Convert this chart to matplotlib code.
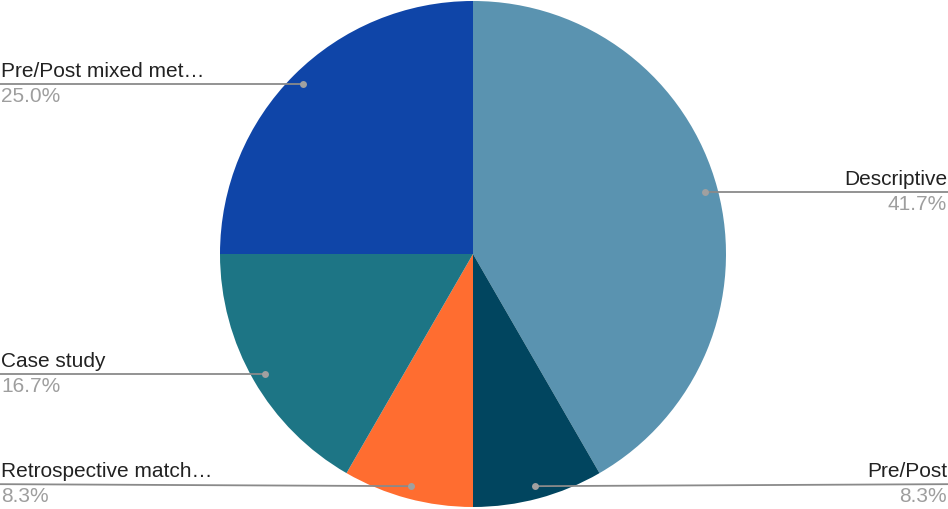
import numpy as np
import matplotlib
matplotlib.use("Agg")
import matplotlib.pyplot as plt

plt.rcParams["font.family"] = ["Liberation Sans", "DejaVu Sans"]

labels = ["Descriptive", "Pre/Post", "Retrospective match\u2026", "Case study", "Pre/Post mixed met\u2026"]
counts = [5, 1, 1, 2, 3]
colors = ["#5a93b0", "#01455f", "#ff6d30", "#1d7585", "#0f45a8"]

W, H = 948, 509
fig = plt.figure(figsize=(W / 100, H / 100), dpi=100)
ax = fig.add_axes([0, 0, 1, 1])

cx, cy, r = 473, 255, 253
wedges, _ = ax.pie(counts, colors=colors, startangle=90, counterclock=False,
                   center=(cx, cy), radius=r, frame=True,
                   wedgeprops=dict(linewidth=0))

total = sum(counts)
for w, lab, c in zip(wedges, labels, counts):
    mid = np.deg2rad((w.theta1 + w.theta2) / 2)
    px = cx + 0.95 * r * np.cos(mid)
    py = cy + 0.95 * r * np.sin(mid)
    right = np.cos(mid) > 0
    xe = W if right else 0
    ye = py + 2 if py < 60 else py
    ax.plot([px, xe], [py, ye], color="#8a8a8a", lw=1.3, solid_capstyle="butt")
    ax.plot(px, py, "o", color="#a0a0a0", ms=5, mec="none")
    ha = "right" if right else "left"
    tx = xe - 1 if right else xe + 1
    ax.text(tx, ye + 3, lab, ha=ha, va="bottom", fontsize=15, color="#222222")
    ax.text(tx, ye - 3, f"{100 * c / total:.1f}%", ha=ha, va="top",
            fontsize=15, color="#9e9e9e")

ax.set_xlim(0, W)
ax.set_ylim(0, H)
ax.set_aspect("auto")
ax.axis("off")

fig.savefig("out.png", dpi=100, facecolor="white")
